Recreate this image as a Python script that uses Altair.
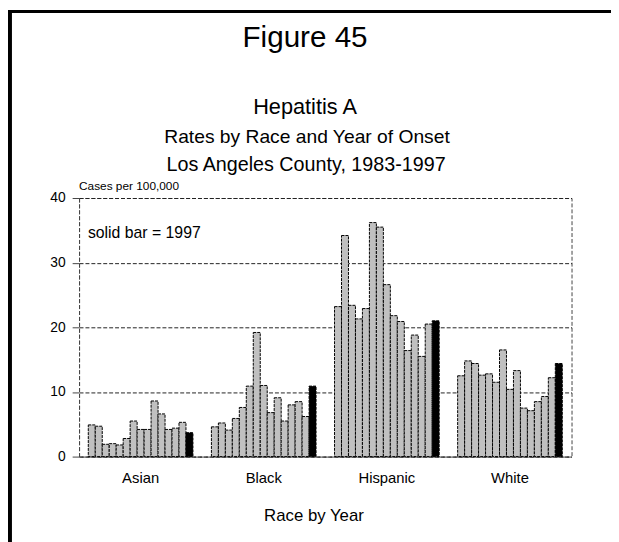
import altair as alt
import pandas as pd

races = ["Asian", "Black", "Hispanic", "White"]
years = list(range(1983, 1998))

asian = [4.9, 4.7, 1.9, 2.0, 1.8, 2.8, 5.5, 4.2, 4.2, 8.6, 6.6, 4.2, 4.4, 5.3, 3.7]
black = [4.6, 5.2, 4.1, 5.9, 7.6, 10.9, 19.2, 11.0, 6.8, 9.1, 5.5, 8.0, 8.5, 6.2, 10.9]
hispanic = [23.2, 34.2, 23.4, 21.3, 22.9, 36.2, 35.5, 26.6, 21.8, 20.9, 16.4, 18.8, 15.5, 20.5, 21.0]
white = [12.5, 14.8, 14.4, 12.6, 12.8, 11.5, 16.5, 10.4, 13.3, 7.5, 7.1, 8.5, 9.3, 12.2, 14.4]

rows = []
for race, vals in zip(races, [asian, black, hispanic, white]):
    for y, v in zip(years, vals):
        rows.append({"race": race, "year": y, "rate": v, "solid": y == 1997})
df = pd.DataFrame(rows)

FONT = "Liberation Sans"

bars = alt.Chart(df).mark_bar(stroke="black", strokeWidth=1, strokeDash=[3, 1]).encode(
    x=alt.X("race:N", sort=races,
            scale=alt.Scale(paddingInner=0.15, paddingOuter=0.075),
            axis=alt.Axis(title=None, labelAngle=0, ticks=False, labelFontSize=15,
                          labelFont=FONT, labelColor="black", labelPadding=14,
                          domainColor="#444", domainDash=[4, 2])),
    xOffset=alt.XOffset("year:O", scale=alt.Scale(paddingInner=0, paddingOuter=0)),
    y=alt.Y("rate:Q", scale=alt.Scale(domain=[0, 40], nice=False),
            axis=alt.Axis(title=None, values=[0, 10, 20, 30, 40], labelFontSize=14,
                          labelFont=FONT, labelColor="black", labelPadding=7,
                          tickSize=7, tickColor="#444", domainColor="#444",
                          domainDash=[4, 2], gridColor="#222", gridDash=[4, 2],
                          gridWidth=1)),
    color=alt.condition(alt.datum.solid, alt.value("black"), alt.value("#c0c0c0")),
)


def label(text, x, y, size, align="center", baseline="middle", font=FONT):
    return alt.Chart(pd.DataFrame({"t": [text]})).mark_text(
        font=font, fontSize=size, align=align, baseline=baseline, color="black"
    ).encode(text="t:N", x=alt.value(x), y=alt.value(y))


texts = [
    label("Figure 45", 229, -162, 30),
    label("Hepatitis A", 229, -92, 22),
    label("Rates by Race and Year of Onset", 231, -62, 19.5),
    label("Los Angeles County, 1983-1997", 230, -33, 20),
    label("Cases per 100,000", 0, -8, 12, align="left", baseline="alphabetic"),
    label("solid bar = 1997", 9, 41, 16, align="left", baseline="alphabetic"),
    label("Race by Year", 238, 322, 17),
]

frame_df = pd.DataFrame({"k": [0]})
left_border = alt.Chart(frame_df).mark_rule(color="black", strokeWidth=4).encode(
    x=alt.value(-70), y=alt.value(-190), y2=alt.value(360))
top_border = alt.Chart(frame_df).mark_rule(color="black", strokeWidth=3).encode(
    x=alt.value(-72), x2=alt.value(545), y=alt.value(-189))

chart = alt.layer(bars, *texts, left_border, top_border).properties(
    width=499, height=262,
    autosize=alt.AutoSizeParams(type="none"),
    padding={"left": 72, "top": 189, "right": 40, "bottom": 83},
    background="white",
).configure_view(stroke="#444", strokeDash=[4, 2])

chart.save("out.html", embed_options={"renderer": "svg", "actions": False})
